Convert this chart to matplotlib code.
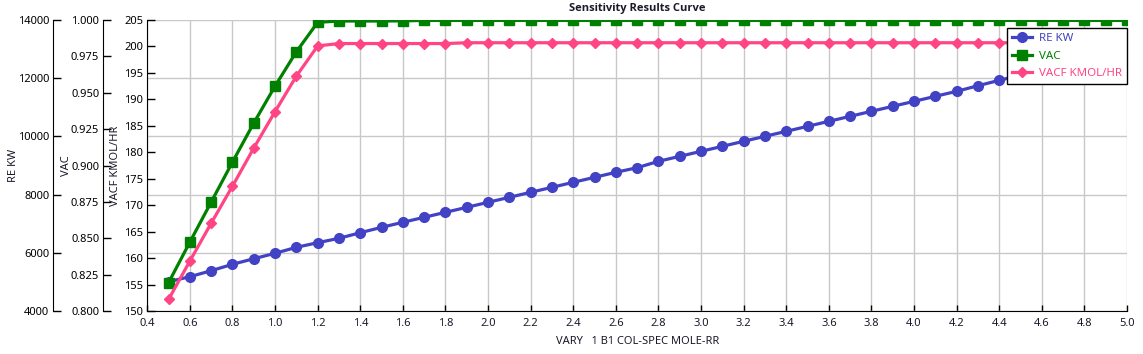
import matplotlib
matplotlib.use('Agg')
import matplotlib.pyplot as plt
import numpy as np

plt.rcParams.update({
    'font.family': ['Noto Sans', 'DejaVu Sans'],
    'font.size': 8,
})

# Sensitivity data
vary_rr = [0.5, 0.6, 0.7, 0.8, 0.9, 1.0, 1.1, 1.2, 1.3, 1.4,
           1.5, 1.6, 1.7, 1.8, 1.9, 2.0, 2.1, 2.2, 2.3, 2.4,
           2.5, 2.6, 2.7, 2.8, 2.9, 3.0, 3.1, 3.2, 3.3, 3.4,
           3.5, 3.6, 3.7, 3.8, 3.9, 4.0, 4.1, 4.2, 4.3, 4.4,
           4.5, 4.6, 4.7, 4.8, 4.9, 5.0]
re_kw = [5007, 5179, 5385, 5605, 5797, 5983, 6189, 6347, 6498, 6690,
         6876, 7048, 7220, 7391, 7563, 7735, 7907, 8079, 8250, 8422,
         8594, 8766, 8924, 9144, 9315, 9487, 9659, 9831, 10003, 10174,
         10346, 10518, 10690, 10862, 11034, 11205, 11377, 11549, 11741, 11927,
         12100, 12280, 12450, 12620, 12780, 12944]
vac = [0.8195, 0.8474, 0.8749, 0.9024, 0.9292, 0.9546, 0.9782, 0.9984, 0.9993, 0.9993,
       0.9993, 0.9994, 0.9997, 0.9997, 0.9997, 0.9997, 0.9997, 0.9997, 0.9997, 0.9997,
       0.9997, 0.9997, 0.9997, 0.9997, 0.9997, 0.9997, 0.9997, 0.9997, 0.9997, 0.9997,
       0.9997, 0.9997, 0.9997, 0.9997, 0.9997, 0.9997, 0.9997, 0.9997, 0.9997, 0.9997,
       0.9997, 0.9997, 0.9997, 0.9997, 0.9997, 0.9997]
vacf = [152.2, 159.45, 166.6, 173.6, 180.8, 187.7, 194.4, 200.1, 200.55, 200.55,
        200.55, 200.55, 200.55, 200.55, 200.7, 200.7, 200.7, 200.7, 200.7, 200.7,
        200.7, 200.7, 200.7, 200.7, 200.7, 200.7, 200.7, 200.7, 200.7, 200.7,
        200.7, 200.7, 200.7, 200.7, 200.7, 200.7, 200.7, 200.7, 200.7, 200.7,
        200.7, 200.7, 200.7, 200.7, 200.7, 200.7]

x_ticks = np.arange(0.4, 5.01, 0.2)
re_ticks = np.arange(4000, 14001, 2000)
vac_ticks = np.arange(0.8, 1.0001, 0.025)
vacf_ticks = np.arange(150, 205.1, 5)

blue = '#4242C4'
green = '#008000'
pink = '#FF4585'
text_col = '#1a1a2a'

W, H = 1143, 354
fig = plt.figure(figsize=(W / 100, H / 100), dpi=100)
left, right, top, bottom = 147.3, 1127, 20, 311
ax = fig.add_axes([left / W, 1 - bottom / H, (right - left) / W, (bottom - top) / H])
ax_vac = ax.twinx()
ax_vacf = ax.twinx()


def style_left(a, offset_px, ticks, lo, hi, fmt, label, label_x):
    a.set_ylim(lo, hi)
    a.set_yticks(ticks)
    a.set_yticklabels([fmt.format(t) for t in ticks], color=text_col)
    a.yaxis.set_ticks_position('left')
    a.yaxis.set_label_position('left')
    for s in ['top', 'right', 'bottom']:
        a.spines[s].set_visible(False)
    a.spines['left'].set_visible(True)
    a.spines['left'].set_position(('axes', offset_px / (right - left)))
    a.tick_params(axis='y', direction='in', length=6, width=1, pad=3,
                  labelsize=8, left=True, right=False, labelleft=True, labelright=False)
    a.set_ylabel(label, color=text_col, fontsize=8)
    a.yaxis.set_label_coords(label_x, 0.5)


style_left(ax, 53.3 - left, re_ticks, 4000, 14000, '{:.0f}', 'RE KW', -0.131)
style_left(ax_vac, 103.3 - left, vac_ticks, 0.8, 1.0, '{:.3f}', 'VAC', -0.077)
style_left(ax_vacf, 0, vacf_ticks, 150, 205, '{:.0f}', 'VACF KMOL/HR', -0.027)

ax.spines['bottom'].set_visible(True)
ax.set_xlim(0.4, 5.0)
ax.set_xticks(x_ticks)
ax.set_xticklabels(['{:.1f}'.format(t) for t in x_ticks], color=text_col)
ax.tick_params(axis='x', direction='in', length=4, width=1, labelsize=8, pad=5)
ax.set_xlabel('VARY   1 B1 COL-SPEC MOLE-RR', color=text_col, fontsize=8, labelpad=5)

ax.grid(True, color='#c8c8c8', linewidth=1)
ax.set_axisbelow(True)

l1, = ax.plot(vary_rr, re_kw, color=blue, lw=2.3, marker='o', ms=7, label='RE KW')
l2, = ax_vac.plot(vary_rr, vac, color=green, lw=2.3, marker='s', ms=6.5, label='VAC')
l3, = ax_vacf.plot(vary_rr, vacf, color=pink, lw=2.3, marker='D', ms=5.5, label='VACF KMOL/HR')

leg = ax_vacf.legend(handles=[l1, l2, l3], loc='upper right',
                     bbox_to_anchor=(1.0, (bottom - 28) / (bottom - top)),
                     borderaxespad=0, fancybox=False, framealpha=1,
                     edgecolor='black', fontsize=8.3, handlelength=1.8,
                     labelspacing=0.55, borderpad=0.45, handletextpad=0.55)
leg.get_frame().set_linewidth(1)
for t, c in zip(leg.get_texts(), [blue, green, pink]):
    t.set_color(c)

fig.text(637 / W, 1 - 9 / H, 'Sensitivity Results Curve', ha='center', va='center',
         fontsize=8, fontweight='bold', color=text_col,
         family=['Open Sans', 'Liberation Sans', 'DejaVu Sans'])

fig.savefig('out.png', dpi=100)
